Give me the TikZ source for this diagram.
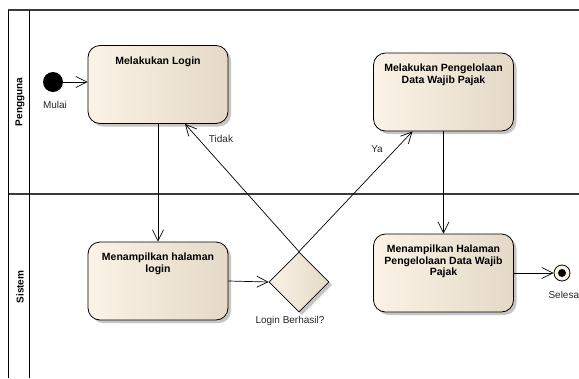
\documentclass[tikz,border=0pt]{standalone}
\usepackage{fontspec}
\setmainfont{Liberation Sans}
\usetikzlibrary{shapes.geometric,arrows.meta,shadows,calc}
\definecolor{boxL}{HTML}{FBF3E6}
\definecolor{boxR}{HTML}{E4D9C7}
\definecolor{lanecol}{HTML}{3A3A3A}
\tikzset{
  actbox/.style={draw=black, line width=0.8pt, rounded corners=12pt,
    left color=boxL, right color=boxR, minimum width=140pt, minimum height=78pt,
    inner sep=0pt,
    drop shadow={shadow xshift=3pt, shadow yshift=-3pt, fill=black!45, opacity=0.5}},
  boxtxt/.style={font=\bfseries\fontsize{10.5}{12.5}\selectfont, align=center, anchor=north, yshift=-8pt},
  decision/.style={diamond, draw=black, line width=0.8pt, aspect=1, inner sep=0pt,
    minimum width=60pt, minimum height=60pt, left color=boxL, right color=boxR,
    drop shadow={shadow xshift=3pt, shadow yshift=-3pt, fill=black!45, opacity=0.5}},
  flow/.style={line width=0.7pt, -{Straight Barb[length=11pt,width=11pt,line width=0.7pt]}},
  lbl/.style={font=\fontsize{10}{12}\selectfont, text=black!85},
  lanelbl/.style={font=\bfseries\fontsize{10}{12}\selectfont, rotate=90},
  hline/.style={draw=lanecol, line width=1.4pt},
  vline/.style={draw=black, line width=0.9pt}
}
\begin{document}
\begin{tikzpicture}[x=1pt,y=-1pt]
\useasboundingbox (0,0) rectangle (579,378);
% swimlane frame
\draw[hline] (8,10) -- (579,10);
\draw[hline] (8,194) -- (579,194);
\draw[vline] (8,10) -- (8,378);
\draw[vline] (29,10) -- (29,378);
\node[lanelbl] (lane1) at (20,102) {Pengguna};
\node[lanelbl] (lane2) at (20,287) {Sistem};
% nodes
\node[circle, fill=black, minimum size=20pt, inner sep=0pt] (start) at (53,82) {};
\node[lbl] (mulai) at (55,105) {Mulai};
\node[actbox] (login) at (158,84.5) {};
\node[boxtxt] at (login.north) {Melakukan Login};
\node[actbox] (pg) at (443.5,92) {};
\node[boxtxt] at (pg.north) {Melakukan Pengelolaan\\[-1pt]Data Wajib Pajak};
\node[actbox] (ml) at (158,281) {};
\node[boxtxt] at (ml.north) {Menampilkan halaman\\[-1pt]login};
\node[actbox] (mh) at (443.5,273) {};
\node[boxtxt] at (mh.north) {Menampilkan Halaman\\[-1pt]Pengelolaan Data Wajib\\[-1pt]Pajak};
\node[decision] (dia) at (299,282) {};
\node[lbl] (dialbl) at (290,321) {Login Berhasil?};
\node[circle, draw=black, line width=0.8pt, fill=boxL, minimum size=16pt, inner sep=0pt] (end) at (562,273) {};
\node[circle, fill=black, minimum size=8pt, inner sep=0pt] (enddot) at (end.center) {};
\node[lbl, anchor=west] (selesai) at (545,295) {Selesai};
% connectors
\draw[flow] (start.east) -- (start.east -| login.west);
\draw[flow] (login.south) -- (ml.north);
\draw[flow] (ml.east) -- (dia.west);
\draw[flow] (dia.north) -- ($(login.south)+(27,0)$);
\draw[flow] (dia.north) -- ($(pg.south)+(-31,0)$);
\draw[flow] (pg.south) -- (mh.north);
\draw[flow] (mh.east) -- (end.west);
\node[lbl] (tidak) at (221,139) {Tidak};
\node[lbl] (ya) at (377,149) {Ya};
\end{tikzpicture}
\end{document}
